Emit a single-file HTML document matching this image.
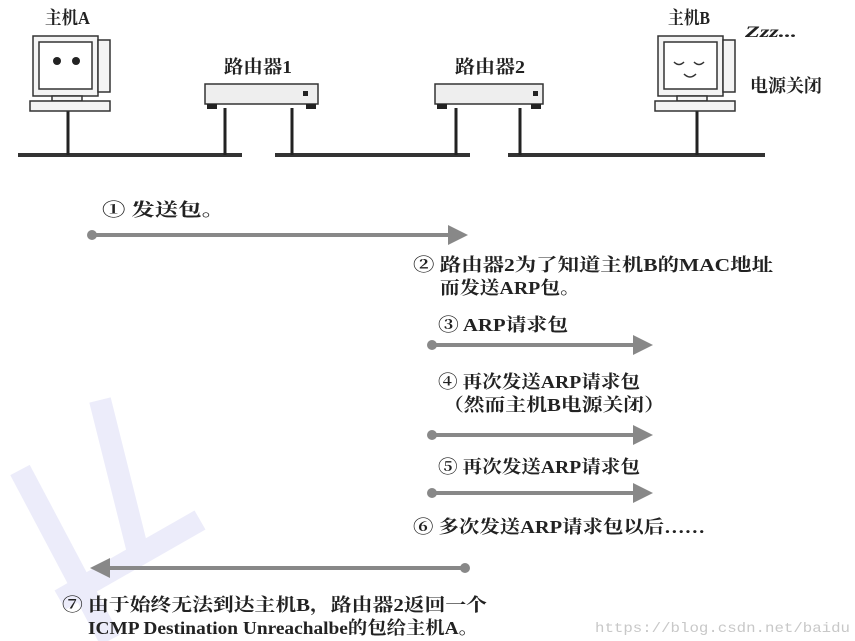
<!DOCTYPE html>
<html><head><meta charset="utf-8"><style>
html,body{margin:0;padding:0;background:#fff;}
svg{display:block;}
text{font-family:"Liberation Serif","Noto Serif CJK SC","Noto Sans CJK SC",serif;font-size:18px;fill:#222;font-weight:bold;}
</style></head><body>
<svg width="855" height="641" viewBox="0 0 855 641" xmlns="http://www.w3.org/2000/svg">
<defs>
<marker id="ah" markerWidth="5" markerHeight="5" refX="3" refY="2.5" orient="auto" markerUnits="strokeWidth">
<path d="M0,0 L5,2.5 L0,5 Z" fill="#888"/></marker>
</defs>
<g stroke="#ececfa" stroke-width="22" fill="none">
<path d="M20 470 L110 640"/><path d="M100 400 L140 560"/><path d="M60 600 L200 520"/>
</g>
<g stroke="#333" stroke-width="4">
<line x1="18" y1="155" x2="242" y2="155"/>
<line x1="275" y1="155" x2="470" y2="155"/>
<line x1="508" y1="155" x2="765" y2="155"/>
</g>
<g stroke="#222" stroke-width="3">
<line x1="68" y1="110" x2="68" y2="155"/>
<line x1="225" y1="108" x2="225" y2="155"/>
<line x1="292" y1="108" x2="292" y2="155"/>
<line x1="456" y1="108" x2="456" y2="155"/>
<line x1="520" y1="108" x2="520" y2="155"/>
<line x1="697" y1="110" x2="697" y2="155"/>
</g>
<g stroke="#333" stroke-width="1.5" fill="#f4f4f4">
<rect x="33" y="36" width="65" height="60"/>
<rect x="39" y="42" width="53" height="47" fill="#fff"/>
<rect x="98" y="40" width="12" height="52"/>
<rect x="52" y="96" width="30" height="5"/>
<rect x="30" y="101" width="80" height="10"/>
</g>
<circle cx="57" cy="61" r="4" fill="#222"/><circle cx="76" cy="61" r="4" fill="#222"/>
<text x="45" y="24" textLength="45" lengthAdjust="spacingAndGlyphs">主机A</text>
<g stroke="#333" stroke-width="1.5" fill="#eee">
<rect x="205" y="84" width="113" height="20"/>
<rect x="435" y="84" width="108" height="20"/>
</g>
<g fill="#222"><rect x="207" y="104" width="10" height="5"/><rect x="306" y="104" width="10" height="5"/>
<rect x="437" y="104" width="10" height="5"/><rect x="531" y="104" width="10" height="5"/>
<rect x="303" y="91" width="5" height="5"/><rect x="533" y="91" width="5" height="5"/></g>
<text x="224" y="73" textLength="68" lengthAdjust="spacingAndGlyphs">路由器1</text>
<text x="455" y="73" textLength="70" lengthAdjust="spacingAndGlyphs">路由器2</text>
<g stroke="#333" stroke-width="1.5" fill="#f4f4f4">
<rect x="658" y="36" width="65" height="60"/>
<rect x="664" y="42" width="53" height="47" fill="#fff"/>
<rect x="723" y="40" width="12" height="52"/>
<rect x="677" y="96" width="30" height="5"/>
<rect x="655" y="101" width="80" height="10"/>
</g>
<g stroke="#333" stroke-width="1.5" fill="none">
<path d="M674 62 q5 5 10 0"/><path d="M694 62 q5 5 10 0"/><path d="M684 74 q6 6 12 0"/>
</g>
<text x="668" y="24" textLength="42" lengthAdjust="spacingAndGlyphs">主机B</text>
<text x="745" y="37" textLength="52" lengthAdjust="spacingAndGlyphs" style="font-size:16px;font-style:italic">Zzz...</text>
<text x="750" y="92" textLength="72" lengthAdjust="spacingAndGlyphs">电源关闭</text>
<g stroke="#888" stroke-width="4" fill="none" marker-end="url(#ah)">
<line x1="92" y1="235" x2="460" y2="235"/>
<line x1="432" y1="345" x2="645" y2="345"/>
<line x1="432" y1="435" x2="645" y2="435"/>
<line x1="432" y1="493" x2="645" y2="493"/>
<line x1="465" y1="568" x2="98" y2="568"/>
</g>
<g fill="#888"><circle cx="92" cy="235" r="5"/><circle cx="432" cy="345" r="5"/><circle cx="432" cy="435" r="5"/><circle cx="432" cy="493" r="5"/><circle cx="465" cy="568" r="5"/></g>
<text x="102" y="216" textLength="123" lengthAdjust="spacingAndGlyphs">① 发送包。</text>
<text x="413" y="271" textLength="360" lengthAdjust="spacingAndGlyphs">② 路由器2为了知道主机B的MAC地址</text>
<text x="440" y="294" textLength="140" lengthAdjust="spacingAndGlyphs">而发送ARP包。</text>
<text x="438" y="331" textLength="130" lengthAdjust="spacingAndGlyphs">③ ARP请求包</text>
<text x="438" y="388" textLength="202" lengthAdjust="spacingAndGlyphs">④ 再次发送ARP请求包</text>
<text x="443" y="411" textLength="222" lengthAdjust="spacingAndGlyphs">（然而主机B电源关闭）</text>
<text x="438" y="473" textLength="202" lengthAdjust="spacingAndGlyphs">⑤ 再次发送ARP请求包</text>
<text x="413" y="533" textLength="292" lengthAdjust="spacingAndGlyphs">⑥ 多次发送ARP请求包以后……</text>
<text x="62" y="611" textLength="425" lengthAdjust="spacingAndGlyphs">⑦ 由于始终无法到达主机B，路由器2返回一个</text>
<text x="88" y="634" textLength="390" lengthAdjust="spacingAndGlyphs">ICMP Destination Unreachalbe的包给主机A。</text>
<text x="595" y="632" textLength="255" lengthAdjust="spacingAndGlyphs" style="font-family:'Liberation Mono',monospace;font-size:14px;font-weight:normal;fill:#c8c8c8">https://blog.csdn.net/baidu</text>
</svg>
</body></html>
